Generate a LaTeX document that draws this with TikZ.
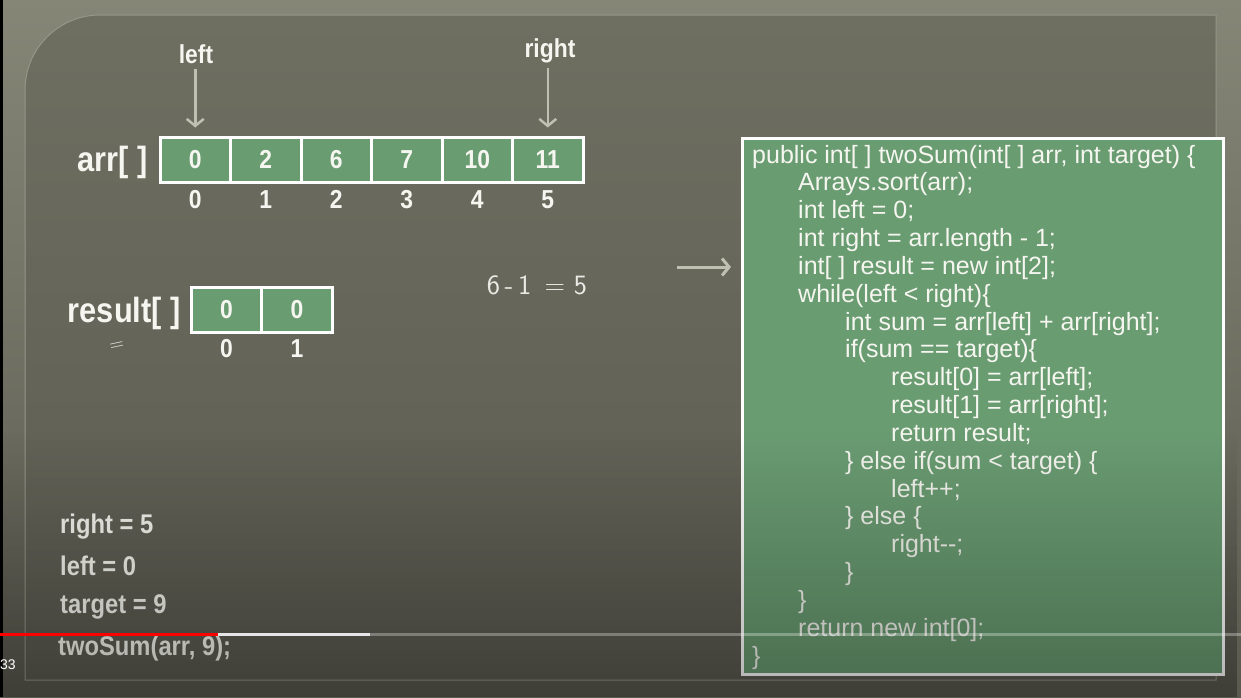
\documentclass[tikz,border=0pt]{standalone}
\usepackage{fontspec}
\setmainfont{Liberation Sans}
\newfontfamily\slidefont[FakeStretch=0.88]{Liberation Sans}
\usetikzlibrary{arrows.meta,positioning,fadings}

\definecolor{outertop}{RGB}{134,134,119}
\definecolor{outerbot}{RGB}{90,90,80}
\definecolor{slidetop}{RGB}{110,110,97}
\definecolor{slidebot}{RGB}{92,92,82}
\definecolor{slideedge}{RGB}{150,150,136}
\definecolor{cellgreen}{RGB}{106,156,114}
\definecolor{chalk}{RGB}{246,246,240}
\definecolor{ptrgrey}{RGB}{192,192,178}

\tikzfading[name=fadedown, top color=transparent!100, bottom color=transparent!0]

\begin{document}
\begin{tikzpicture}[x=1pt,y=-1pt,>={Straight Barb[length=7pt,width=17pt]},
  cell/.style={draw=white, line width=3pt, fill=cellgreen, minimum width=70.5pt,
    minimum height=45pt, inner sep=0pt, text=chalk,
    font=\slidefont\bfseries\fontsize{26}{30}\selectfont},
  idx/.style={anchor=base, inner sep=0pt, text=chalk,
    font=\slidefont\bfseries\fontsize{26}{30}\selectfont},
  arrlabel/.style={anchor=base east, inner sep=0pt, text=chalk,
    font=\slidefont\bfseries\fontsize{35}{40}\selectfont},
  ptrlabel/.style={anchor=base, inner sep=0pt, text=chalk,
    font=\slidefont\bfseries\fontsize{26}{30}\selectfont},
  varline/.style={anchor=base west, inner sep=0pt, text=chalk,
    font=\slidefont\bfseries\fontsize{27}{30}\selectfont},
  codeline/.style={anchor=base west, inner sep=0pt, text=chalk,
    font=\fontsize{25}{30}\selectfont},
  hand/.style={inner sep=0pt, text=chalk!90!gray, font=\sffamily\fontsize{28}{30}\selectfont},
  ptr/.style={->, draw=ptrgrey, line width=2.5pt}]
  \useasboundingbox (0,0) rectangle (1241,697);

  % slide background
  \fill[top color=outertop, bottom color=outerbot] (0,0) rectangle (1241,697);
  \fill[black] (0,0) rectangle (3,697);
  \draw[slideedge, line width=1pt, top color=slidetop, bottom color=slidebot]
    (25,680) -- (25,90) .. controls (25,48.6) and (58.6,15) .. (100,15)
    -- (1216,15) -- (1216,680) -- cycle;

  % arr[ ]
  \node[arrlabel] (arrname) at (148,171) {arr[ ]};
  \node[cell] (a0) at (195.25,159.5) {0};
  \node[cell] (a1) at (265.75,159.5) {2};
  \node[cell] (a2) at (336.25,159.5) {6};
  \node[cell] (a3) at (406.75,159.5) {7};
  \node[cell] (a4) at (477.25,159.5) {10};
  \node[cell] (a5) at (547.75,159.5) {11};
  \node[idx] (i0) at (195.25,208) {0};
  \node[idx] (i1) at (265.75,208) {1};
  \node[idx] (i2) at (336.25,208) {2};
  \node[idx] (i3) at (406.75,208) {3};
  \node[idx] (i4) at (477.25,208) {4};
  \node[idx] (i5) at (547.75,208) {5};

  % pointers
  \node[ptrlabel] (lleft) at (196,63) {left};
  \node[ptrlabel] (lright) at (550,57) {right};
  \draw[ptr, shorten <=6pt, shorten >=8pt] (a0 |- lleft.south) -- (a0.north);
  \draw[ptr, shorten <=5pt, shorten >=8pt] (a5 |- lright.south) -- (a5.north);

  % result[ ]
  \node[arrlabel] (resname) at (181,322) {result[ ]};
  \node[cell] (r0) at (226.5,309.5) {0};
  \node[cell] (r1) at (297,309.5) {0};
  \node[idx] (j0) at (226.5,357) {0};
  \node[idx] (j1) at (297,357) {1};
  \node[hand, rotate=12, font=\sffamily\fontsize{20}{22}\selectfont] (mark) at (117,346) {=};

  % scribbled sum
  \node[hand] (calc) at (537,285) {6\,-\,1\ \,=\ 5};

  % code
  \node[draw=white, line width=3pt, fill=cellgreen, minimum width=481pt,
    minimum height=536pt, inner sep=0pt, anchor=north west] (code) at (741,137) {};
  \coordinate (tail) at (677,267);
  \draw[ptr, line width=3pt, shorten >=10pt] (tail) -- (tail -| code.west);

  \node[codeline] (c1) at (752,163) {public int[ ] twoSum(int[ ] arr, int target) \{};
  \node[codeline] (c2) at (798,190.8) {Arrays.sort(arr);};
  \node[codeline] (c3) at (798,218.7) {int left = 0;};
  \node[codeline] (c4) at (798,246.5) {int right = arr.length - 1;};
  \node[codeline] (c5) at (798,274.3) {int[ ] result = new int[2];};
  \node[codeline] (c6) at (798,302.2) {while(left < right)\{};
  \node[codeline] (c7) at (845,330) {int sum = arr[left] + arr[right];};
  \node[codeline] (c8) at (845,357.8) {if(sum == target)\{};
  \node[codeline] (c9) at (891,385.6) {result[0] = arr[left];};
  \node[codeline] (c10) at (891,413.5) {result[1] = arr[right];};
  \node[codeline] (c11) at (891,441.3) {return result;};
  \node[codeline] (c12) at (845,469.1) {\} else if(sum < target) \{};
  \node[codeline] (c13) at (891,497) {left++;};
  \node[codeline] (c14) at (845,524.8) {\} else \{};
  \node[codeline] (c15) at (891,552.6) {right-{}-;};
  \node[codeline] (c16) at (845,580.5) {\}};
  \node[codeline] (c17) at (798,608.3) {\}};
  \node[codeline] (c18) at (798,636.1) {return new int[0];};
  \node[codeline] (c19) at (752,664) {\}};

  % variables
  \node[varline] (vright) at (60,533) {right = 5};
  \node[varline] (vleft) at (60,575) {left = 0};
  \node[varline] (vtarget) at (60,613) {target = 9};
  \node[varline] (vcall) at (58,655) {twoSum(arr, 9);};

  % player overlay
  \fill[black, opacity=0.3, path fading=fadedown] (0,430) rectangle (1241,697);
  \draw[white, opacity=0.3, line width=3pt] (370,634) -- (1241,634);
  \draw[white!80!gray, line width=3pt] (218,634) -- (370,634);
  \draw[red, line width=3pt] (0,634) -- (218,634);
  \node[anchor=base west, inner sep=0pt, text=white, font=\fontsize{14}{16}\selectfont]
    (clock) at (0,669) {33};
\end{tikzpicture}
\end{document}
